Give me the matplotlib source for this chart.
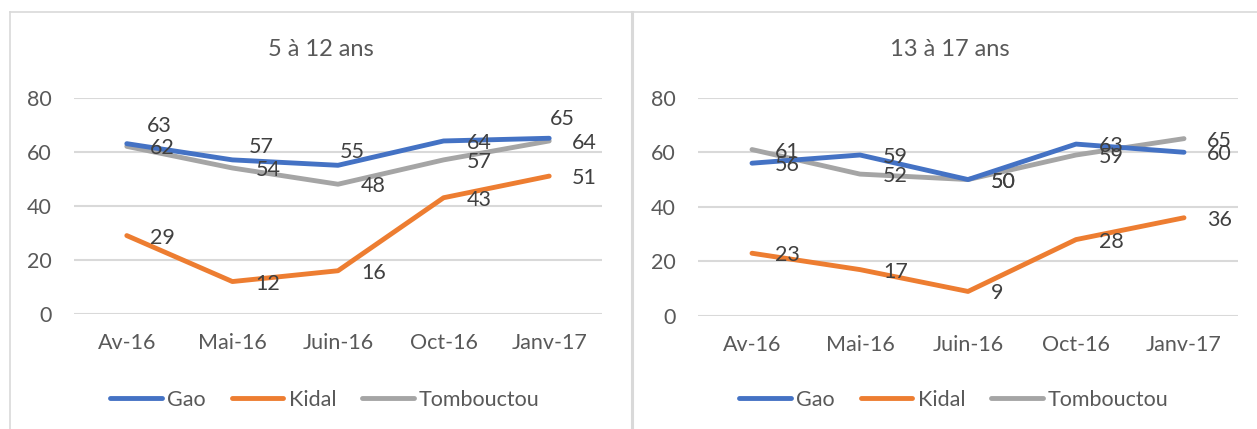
import matplotlib
matplotlib.use("Agg")
import matplotlib.pyplot as plt
from matplotlib.lines import Line2D

plt.rcParams['font.family'] = ['Lato', 'DejaVu Sans']

mois = ['Av-16', 'Mai-16', 'Juin-16', 'Oct-16', 'Janv-17']
titres = ['5 à 12 ans', '13 à 17 ans']

# 5 a 12 ans
gao_5_12 = [63, 57, 55, 64, 65]
kidal_5_12 = [29, 12, 16, 43, 51]
tomb_5_12 = [62, 54, 48, 57, 64]

# 13 a 17 ans
gao_13_17 = [56, 59, 50, 63, 60]
kidal_13_17 = [23, 17, 9, 28, 36]
tomb_13_17 = [61, 52, 50, 59, 65]

noms = ['Gao', 'Kidal', 'Tombouctou']
couleurs = ['#4472C4', '#ED7D31', '#A5A5A5']

W, H = 1257, 429
fig = plt.figure(figsize=(W / 100, H / 100), dpi=100)

# axes rectangles in pixels: left, top(value 80), right, bottom(value 0)
rects = [(74, 97.7, 602, 314), (698, 97.7, 1238, 316)]
titre_x = [321, 950]
leg_x = [325, 954]

# label shifts (pixels) for the Gao series on the left chart, moved by hand in Excel
gao_shift = [(20, 20), (16, 15), (2, 15), (23, 0), (1, 21)]

gris_texte = '#595959'
gris_lbl = '#404040'
grille = '#D9D9D9'

panels = [(gao_5_12, kidal_5_12, tomb_5_12), (gao_13_17, kidal_13_17, tomb_13_17)]

for p, series in enumerate(panels):
    l, t, r, b = rects[p]
    ax = fig.add_axes([l / W, 1 - b / H, (r - l) / W, (b - t) / H])
    x = list(range(len(mois)))
    for s in [0, 1, 2]:
        ax.plot(x, series[s], color=couleurs[s], lw=3.5, solid_capstyle='round',
                solid_joinstyle='round', zorder=3 + (2 - s) * 0.1, clip_on=False)
    for s in range(3):
        for i, v in enumerate(series[s]):
            dx, dy = 23, 0
            if p == 0 and s == 0:
                dx, dy = gao_shift[i]
            ax.annotate(str(v), (x[i], v), xytext=(dx, dy - 2), textcoords='offset pixels',
                        ha='left', va='center', fontsize=15.5, color=gris_lbl,
                        zorder=6, annotation_clip=False)
    ax.set_xlim(-0.5, len(mois) - 0.5)
    ax.set_ylim(0, 80)
    ax.set_yticks([0, 20, 40, 60, 80])
    ax.set_xticks(x)
    ax.set_xticklabels(mois)
    ax.grid(axis='y', color=grille, lw=1.5, zorder=0)
    ax.set_axisbelow(True)
    for sp in ax.spines.values():
        sp.set_visible(False)
    ax.tick_params(axis='y', length=0, pad=16, labelsize=15.5, labelcolor=gris_texte)
    ax.tick_params(axis='x', length=0, pad=14, labelsize=15.5, labelcolor=gris_texte)

    fig.text(titre_x[p] / W, 1 - 49 / H, titres[p], ha='center', va='center',
             fontsize=17, color=gris_texte)

    handles = [Line2D([], [], color=couleurs[s], lw=3.5, solid_capstyle='round') for s in range(3)]
    fig.legend(handles, noms, loc='center', bbox_to_anchor=(leg_x[p] / W, 1 - 400 / H),
               ncol=3, frameon=False, fontsize=15.5, labelcolor=gris_texte,
               handlelength=2.4, handletextpad=0.25, columnspacing=1.2,
               borderaxespad=0, borderpad=0)

# panel borders
fig.add_artist(Line2D([10 / W, 1], [1 - 12 / H, 1 - 12 / H], transform=fig.transFigure,
                      color=grille, lw=1.2))
fig.add_artist(Line2D([10 / W, 10 / W], [0, 1 - 12 / H], transform=fig.transFigure,
                      color=grille, lw=1.2))
fig.add_artist(Line2D([632 / W, 632 / W], [0, 1 - 12 / H], transform=fig.transFigure,
                      color=grille, lw=2.2))

fig.savefig('out.png', dpi=100, facecolor='white')
